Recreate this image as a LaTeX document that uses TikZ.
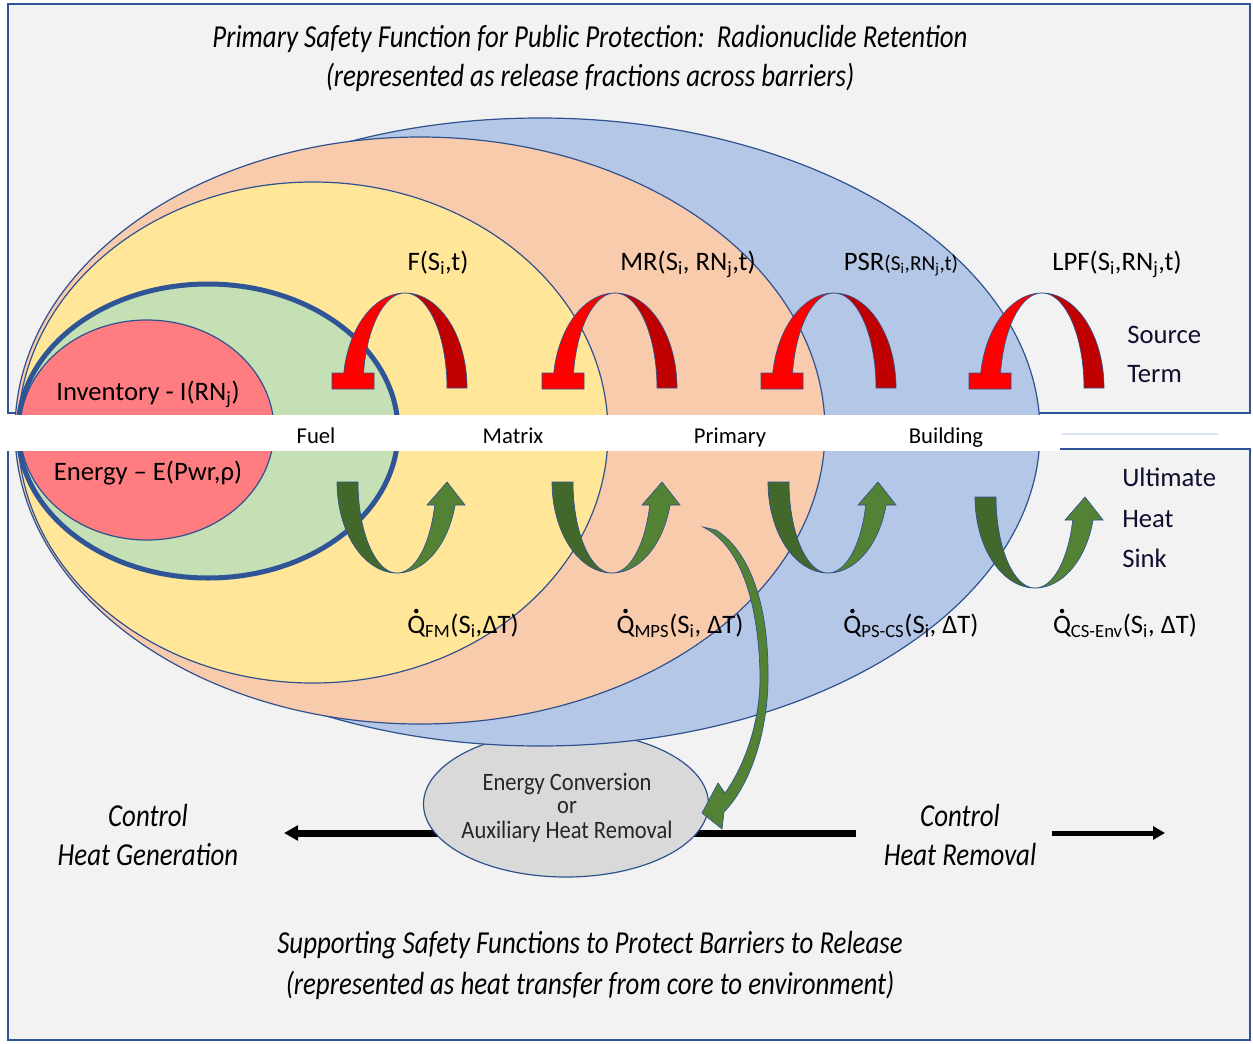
\documentclass[tikz,border=0pt]{standalone}
\usepackage{fontspec}
\setmainfont{Carlito}
\newfontfamily\condfont[FakeStretch=0.84]{Carlito}
\newfontfamily\ecfont[FakeStretch=0.9]{Carlito}
\usetikzlibrary{arrows.meta}
\definecolor{bg}{HTML}{F2F2F2}
\definecolor{frame}{HTML}{2F5597}
\definecolor{outl}{HTML}{2F528F}
\definecolor{blueE}{HTML}{B4C7E7}
\definecolor{peachE}{HTML}{F8CBAD}
\definecolor{yellowE}{HTML}{FFE699}
\definecolor{greenE}{HTML}{C5E0B4}
\definecolor{redE}{HTML}{FF7C80}
\definecolor{grayE}{HTML}{D9D9D9}
\definecolor{redL}{HTML}{FF0000}
\definecolor{redD}{HTML}{C00000}
\definecolor{grnL}{HTML}{548235}
\definecolor{grnD}{HTML}{43682B}
\definecolor{navytxt}{HTML}{0E0E2E}
\definecolor{faint}{HTML}{DAE3F3}
\newcommand\Qd{\ooalign{Q\cr\hidewidth\raisebox{0.74em}{\tikz\fill (0,0) circle (1.7pt);}\hidewidth\cr}}
\newcommand\redarc[1]{%
\begin{scope}[shift={(#1,388)}]
\filldraw[fill=redL,draw=outl,line width=0.5pt] (-73,1) -- (-73,-15) -- (-61.22,-15)
  -- plot[domain=189.08:270,samples=40] ({62*cos(\x)},{95*sin(\x)})
  -- plot[domain=270:189.08,samples=40] ({42*cos(\x)},{95*sin(\x)})
  -- (-31,-15) -- (-31,1) -- cycle;
\filldraw[fill=redD,draw=outl,line width=0.5pt] plot[domain=270:360,samples=40] ({62*cos(\x)},{95*sin(\x)})
  -- (42,0) -- plot[domain=360:270,samples=40] ({42*cos(\x)},{95*sin(\x)}) -- cycle;
\end{scope}}
\newcommand\grnarrow[2]{%
\begin{scope}[shift={(#1,#2)}]
\filldraw[fill=grnD,draw=outl,line width=0.5pt] plot[domain=180:90,samples=40] ({60*cos(\x)},{91*sin(\x)})
  -- plot[domain=90:180,samples=40] ({39*cos(\x)},{91*sin(\x)}) -- cycle;
\filldraw[fill=grnL,draw=outl,line width=0.5pt] plot[domain=90:14.64,samples=40] ({60*cos(\x)},{91*sin(\x)})
  -- (68,23) -- (50,0) -- (30,23)
  -- plot[domain=14.64:90,samples=40] ({39*cos(\x)},{91*sin(\x)}) -- cycle;
\end{scope}}
\begin{document}
\begin{tikzpicture}[x=0.75pt,y=-0.75pt,
  lbl/.style={font=\fontsize{20}{24}\selectfont, inner sep=0pt, anchor=base},
  sublbl/.style={font=\fontsize{20}{24}\selectfont, inner sep=0pt, anchor=base west, text=navytxt},
  bandlbl/.style={font=\fontsize{17}{20}\selectfont, inner sep=0pt, anchor=base},
  ttl/.style={font=\condfont\itshape\fontsize{24}{28}\selectfont, inner sep=0pt, anchor=base},
  ect/.style={font=\ecfont\fontsize{18.75}{20}\selectfont, inner sep=0pt, anchor=base, text=black!85},
  ell/.style={draw=outl, line width=0.9pt},
]
\useasboundingbox (0,0) rectangle (1253,1043);
\fill[white] (0,0) rectangle (1253,1043);
\filldraw[fill=bg, draw=frame, line width=1.5pt] (8,4) rectangle (1250,413);
\filldraw[fill=bg, draw=frame, line width=1.5pt] (8,449) rectangle (1250,1040);

% black arrows (behind the energy conversion ellipse)
\coordinate (hgL) at (284,833); \coordinate (hgR) at (856,833);
\coordinate (hrL) at (1052,833); \coordinate (hrR) at (1165,833);
\draw[line width=5.25pt, -{Triangle[length=10.5pt,width=11pt]}] (hgR) -- (hgL);
\draw[line width=3.75pt, -{Triangle[length=9pt,width=9.75pt]}] (hrL) -- (hrR);

% energy conversion ellipse
\filldraw[ell, fill=grayE] (566,804) ellipse [x radius=142.5, y radius=73];

% barrier ellipses
\filldraw[ell, fill=blueE] (540,432) ellipse [x radius=500, y radius=314];
\filldraw[ell, fill=peachE] (420,430.5) ellipse [x radius=405, y radius=293.5];
\filldraw[ell, fill=yellowE] (313,432.5) ellipse [x radius=295, y radius=250.5];
\filldraw[draw=frame, line width=3.75pt, fill=greenE] (208,431) ellipse [x radius=190, y radius=147];
\filldraw[ell, fill=redE] (147,430) ellipse [x radius=127, y radius=110];

% white band
\fill[white] (0,414.5) rectangle (1060,451);
\draw[line width=1pt, faint] (1062,434) -- (1218,434);

\node[bandlbl] (fuel) at (316,443) {Fuel};
\node[bandlbl] (matrix) at (513,443) {Matrix};
\node[bandlbl] (primary) at (730,443) {Primary};
\node[bandlbl] (building) at (946,443) {Building};

% red release arcs
\redarc{405}
\redarc{615}
\redarc{834}
\redarc{1042}

% green heat arrows
\grnarrow{397}{482}
\grnarrow{612}{482}
\grnarrow{828}{482}
\grnarrow{1035}{497}

% long green arrow to energy conversion
\filldraw[fill=grnL, draw=outl, line width=0.5pt]
  (703,527) .. controls (740,545) and (758,600) .. (760,673)
  .. controls (761,720) and (745,765) .. (725,793)
  -- (718,783) -- (702,813) -- (722,829) -- (724,812)
  .. controls (755,780) and (769,720) .. (768,673)
  .. controls (768,600) and (748,550) .. (716,530) -- cycle;

% titles
\node[ttl] (t1) at (590,47) {Primary Safety Function for Public Protection:\ \ Radionuclide Retention};
\node[ttl] (t2) at (590,86) {(represented as release fractions across barriers)};
\node[ttl] (b1) at (590,953) {Supporting Safety Functions to Protect Barriers to Release};
\node[ttl] (b2) at (590,994) {(represented as heat transfer from core to environment)};
\node[ttl] (cg1) at (148,826) {Control};
\node[ttl] (cg2) at (148,865) {Heat Generation};
\node[ttl] (cr1) at (960,826) {Control};
\node[ttl] (cr2) at (960,865) {Heat Removal};

% energy conversion text
\node[ect] (ec1) at (567,790) {Energy Conversion};
\node[ect] (ec2) at (567,813) {or};
\node[ect] (ec3) at (567,838) {Auxiliary Heat Removal};

% core labels
\node[lbl] (inv) at (148,400) {Inventory - I(RN\textsubscript{j})};
\node[lbl] (en) at (148,480) {Energy -- E(Pwr,ρ)};

% release fraction labels
\node[lbl] (fr1) at (438,270) {F(S\textsubscript{i},t)};
\node[lbl] (fr2) at (688,270) {MR(S\textsubscript{i}, RN\textsubscript{j},t)};
\node[lbl] (fr3) at (901,270) {PSR{\fontsize{16}{20}\selectfont(S\textsubscript{i},RN\textsubscript{j},t)}};
\node[lbl] (fr4) at (1117,270) {LPF(S\textsubscript{i},RN\textsubscript{j},t)};

% heat transfer labels
\node[lbl] (q1) at (463,633) {\Qd\textsubscript{FM}(S\textsubscript{i},ΔT)};
\node[lbl] (q2) at (680,633) {\Qd\textsubscript{MPS}(S\textsubscript{i}, ΔT)};
\node[lbl] (q3) at (911,633) {\Qd\textsubscript{PS-CS}(S\textsubscript{i}, ΔT)};
\node[lbl] (q4) at (1125,633) {\Qd\textsubscript{CS-Env}(S\textsubscript{i}, ΔT)};

% right side labels
\node[sublbl] (st1) at (1127,343) {Source};
\node[sublbl] (st2) at (1127,382) {Term};
\node[sublbl] (uh1) at (1122,486) {Ultimate};
\node[sublbl] (uh2) at (1122,527) {Heat};
\node[sublbl] (uh3) at (1122,567) {Sink};
\end{tikzpicture}
\end{document}
